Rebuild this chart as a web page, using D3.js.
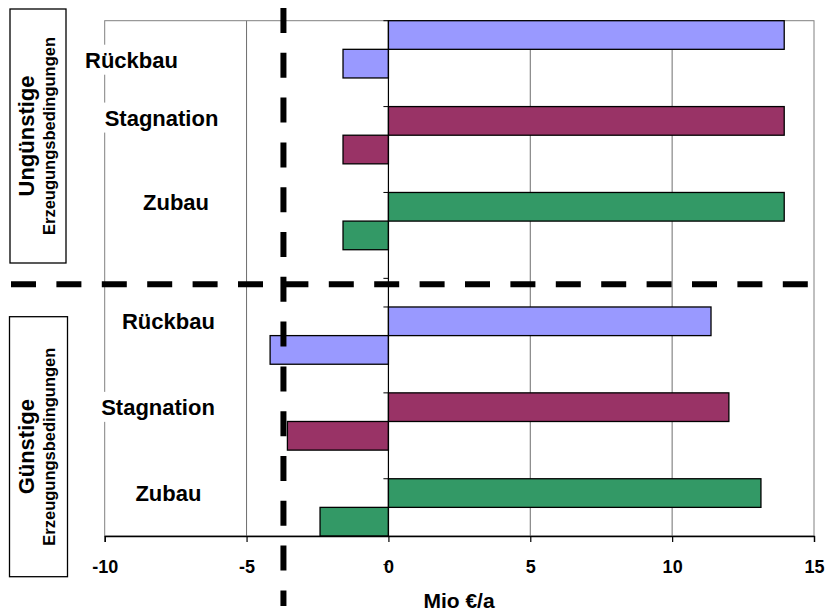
<!DOCTYPE html>
<html>
<head>
<meta charset="utf-8">
<script src="https://cdn.jsdelivr.net/npm/d3@7"></script>
<style>
  html, body { margin: 0; padding: 0; background: #fff; }
  svg text { font-family: "Liberation Sans", Arial, sans-serif; font-weight: bold; fill: #000; }
</style>
</head>
<body>
<svg id="chart" width="827" height="612"></svg>
<script>
// ---- data ----
const groups = ["Ungünstige", "Günstige"];
const groupSubtitle = "Erzeugungsbedingungen";
const categories = ["Rückbau", "Stagnation", "Zubau"];
const positiveUngunstig = [13.95, 13.95, 13.95];
const negativeUngunstig = [-1.6, -1.6, -1.6];
const positiveGunstig = [11.37, 12.0, 13.13];
const negativeGunstig = [-4.17, -3.56, -2.41];
const seriesColors = ["#9999FF", "#993366", "#339966"];
const xTicks = [-10, -5, 0, 5, 10, 15];
const xTitle = "Mio €/a";
const thresholdValue = -3.7;

// ---- layout ----
const W = 827, H = 612;
const plot = { left: 104.7, right: 814, top: 20.7, bottom: 536 };
const groupGap = 1 / 3;            // extra spacing (in category units) between groups
const barFrac = 1 / 3;             // bar thickness in category units
const labelBaselineOffset = [[47, 19, 17.5], [22, 22, 22]];
const labelCenterX = [[131.5, 161.5, 176], [168.4, 158, 168.4]];

const svg = d3.select("#chart");
const x = d3.scaleLinear().domain([-10, 15]).range([plot.left, plot.right]);
const y = d3.scaleLinear().domain([0, 6]).range([plot.top, plot.bottom]);

const rows = [];
const posSets = [positiveUngunstig, positiveGunstig];
const negSets = [negativeUngunstig, negativeGunstig];
groups.forEach((g, gi) => {
  categories.forEach((c, ci) => {
    rows.push({ g: gi, c: ci, name: c, pos: posSets[gi][ci], neg: negSets[gi][ci],
      start: gi * (categories.length + groupGap) + ci });
  });
});

// gridlines
svg.append("g").selectAll("line").data(xTicks.filter(t => t !== 0 && t !== -10 && t !== 15))
  .join("line")
  .attr("x1", d => x(d)).attr("x2", d => x(d))
  .attr("y1", plot.top).attr("y2", plot.bottom)
  .attr("stroke", "#6e6e6e").attr("stroke-width", 1);

// plot border (gray)
svg.append("rect")
  .attr("x", plot.left).attr("y", plot.top)
  .attr("width", plot.right - plot.left).attr("height", plot.bottom - plot.top)
  .attr("fill", "none").attr("stroke", "#808080").attr("stroke-width", 1);

// bars
const bars = svg.append("g");
bars.selectAll("rect.pos").data(rows).join("rect")
  .attr("class", "pos")
  .attr("x", d => x(0)).attr("y", d => y(d.start))
  .attr("width", d => x(d.pos) - x(0))
  .attr("height", d => y(d.start + barFrac) - y(d.start))
  .attr("fill", d => seriesColors[d.c]).attr("stroke", "#000").attr("stroke-width", 1.3);
bars.selectAll("rect.neg").data(rows).join("rect")
  .attr("class", "neg")
  .attr("x", d => x(d.neg)).attr("y", d => y(d.start + barFrac))
  .attr("width", d => x(0) - x(d.neg))
  .attr("height", d => y(d.start + 2 * barFrac) - y(d.start + barFrac))
  .attr("fill", d => seriesColors[d.c]).attr("stroke", "#000").attr("stroke-width", 1.3);

// zero axis with category ticks
const catTicks = [];
groups.forEach((g, gi) => {
  for (let ci = 0; ci <= categories.length; ci++) catTicks.push(gi * (categories.length + groupGap) + ci);
});
svg.append("line")
  .attr("x1", x(0)).attr("x2", x(0)).attr("y1", plot.top).attr("y2", plot.bottom)
  .attr("stroke", "#000").attr("stroke-width", 1.2);
svg.append("g").selectAll("line").data(catTicks).join("line")
  .attr("x1", x(0) - 5).attr("x2", x(0))
  .attr("y1", d => y(d)).attr("y2", d => y(d))
  .attr("stroke", "#000").attr("stroke-width", 1);

// bottom axis
const xAxis = d3.axisBottom(x).tickValues(xTicks).tickSize(6).tickPadding(0).tickFormat(d3.format("d"));
const ax = svg.append("g").attr("transform", `translate(0,${plot.bottom})`).call(xAxis);
ax.select(".domain").attr("stroke", "#000").attr("stroke-width", 1.3);
ax.selectAll(".tick line").attr("stroke", "#000").attr("stroke-width", 1.2);
ax.selectAll(".tick text")
  .attr("y", 37).attr("dy", null)
  .style("font-family", '"Liberation Sans", Arial, sans-serif')
  .style("font-weight", "bold").style("font-size", "18px").attr("fill", "#000")
  .text(d => d < 0 ? "-" + Math.abs(d) : d);

// x title
svg.append("text").attr("x", 459).attr("y", 608).attr("text-anchor", "middle")
  .style("font-size", "21px").text(xTitle);

// category labels with white background
const lab = svg.append("g");
rows.forEach(d => {
  const t = lab.append("text")
    .attr("x", labelCenterX[d.g][d.c])
    .attr("y", y(d.start) + labelBaselineOffset[d.g][d.c])
    .attr("text-anchor", "middle")
    .style("font-size", "22px").text(d.name);
  const b = t.node().getBBox();
  lab.insert("rect", () => t.node())
    .attr("x", b.x - 4).attr("y", b.y - 3).attr("width", b.width + 8).attr("height", b.height + 5)
    .attr("fill", "#fff");
});

// group boxes on the left
const boxes = [
  { x: 10, y: 9, w: 56, h: 254 },
  { x: 9.5, y: 316.7, w: 58, h: 260 }
];
groups.forEach((g, gi) => {
  const bx = boxes[gi];
  svg.append("rect").attr("x", bx.x).attr("y", bx.y).attr("width", bx.w).attr("height", bx.h)
    .attr("fill", "#fff").attr("stroke", "#000").attr("stroke-width", 1.3);
  const cy = bx.y + bx.h / 2;
  svg.append("text").attr("transform", `translate(33.5,${cy}) rotate(-90)`)
    .attr("text-anchor", "middle").style("font-size", "22px").text(g);
  svg.append("text").attr("transform", `translate(54.5,${cy}) rotate(-90)`)
    .attr("text-anchor", "middle").style("font-size", "16.5px").text(groupSubtitle);
});

// dashed separators
svg.append("line")
  .attr("x1", x(thresholdValue)).attr("x2", x(thresholdValue))
  .attr("y1", 8).attr("y2", 606)
  .attr("stroke", "#000").attr("stroke-width", 6).attr("stroke-dasharray", "25,19.8");
const sepY = y(categories.length + 0.07);
svg.append("line")
  .attr("x1", 11).attr("x2", 808).attr("y1", sepY).attr("y2", sepY)
  .attr("stroke", "#000").attr("stroke-width", 6).attr("stroke-dasharray", "25,20.4");
</script>
</body>
</html>
